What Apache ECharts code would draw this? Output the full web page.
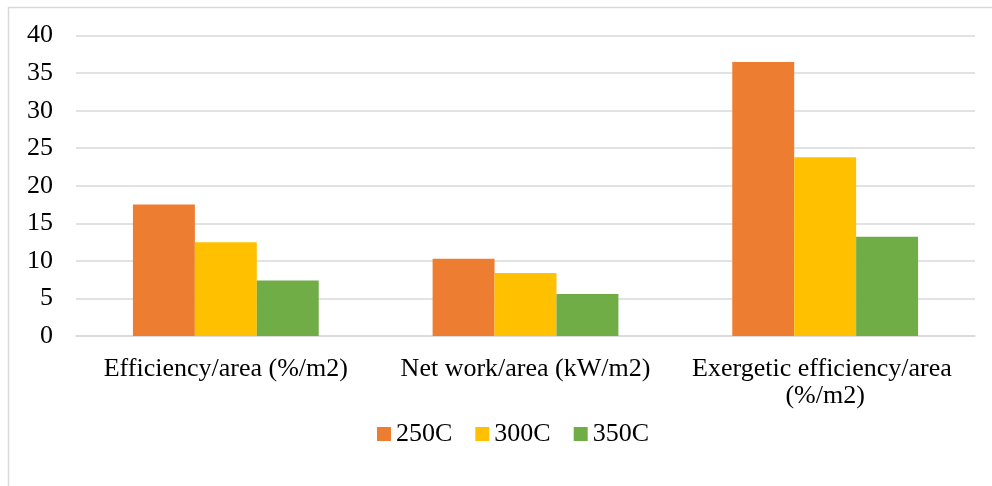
<!DOCTYPE html>
<html>
<head>
<meta charset="utf-8">
<script src="https://cdn.jsdelivr.net/npm/echarts@6/dist/echarts.min.js"></script>
<style>
  html, body { margin: 0; padding: 0; background: #fff; }
  #chart { width: 992px; height: 486px; }
</style>
</head>
<body>
<div id="chart"></div>
<script>
// Metrics per unit of collector area at three source temperatures
const categories = ['Efficiency/area (%/m2)', 'Net work/area (kW/m2)', 'Exergetic efficiency/area (%/m2)'];
const seriesNames = ['250C', '300C', '350C'];
const values250 = [17.5, 10.3, 36.5];
const values300 = [12.5, 8.4, 23.8];
const values350 = [7.4, 5.6, 13.2];
const seriesColors = ['#ED7D31', '#FFC000', '#70AD47'];

const font = 'Liberation Serif, Times New Roman, serif';
const chart = echarts.init(document.getElementById('chart'), null, { renderer: 'canvas' });

const seriesData = [values250, values300, values350];

chart.setOption({
  animation: false,
  backgroundColor: '#fff',
  textStyle: { fontFamily: font },
  graphic: [{
    type: 'rect',
    shape: { x: 8.5, y: 7.5, width: 1200, height: 1000 },
    style: { fill: 'none', stroke: '#d9d9d9', lineWidth: 1.5 },
    silent: true
  }],
  grid: { left: 76, right: 17, top: 35.6, bottom: 150, containLabel: false },
  legend: {
    data: seriesNames,
    left: 377,
    top: 421,
    padding: 0,
    itemWidth: 14,
    itemHeight: 14,
    itemGap: 23,
    icon: 'rect',
    textStyle: { fontFamily: font, fontSize: 26, color: '#000' }
  },
  xAxis: {
    type: 'category',
    data: categories,
    axisLine: { show: true, lineStyle: { color: '#d9d9d9', width: 1.5 } },
    axisTick: { show: false },
    axisLabel: {
      fontFamily: font,
      fontSize: 26,
      color: '#000',
      margin: 20,
      lineHeight: 27,
      width: 290,
      overflow: 'break',
      interval: 0
    }
  },
  yAxis: {
    type: 'value',
    min: 0,
    max: 40,
    interval: 5,
    axisLine: { show: false },
    axisTick: { show: false },
    splitLine: { lineStyle: { color: '#d9d9d9', width: 1.5 } },
    axisLabel: { fontFamily: font, fontSize: 26, color: '#000', margin: 23 }
  },
  series: seriesNames.map((name, i) => ({
    name: name,
    type: 'bar',
    data: seriesData[i],
    barGap: '0%',
    barCategoryGap: '38%',
    itemStyle: { color: seriesColors[i] }
  }))
});
</script>
</body>
</html>
